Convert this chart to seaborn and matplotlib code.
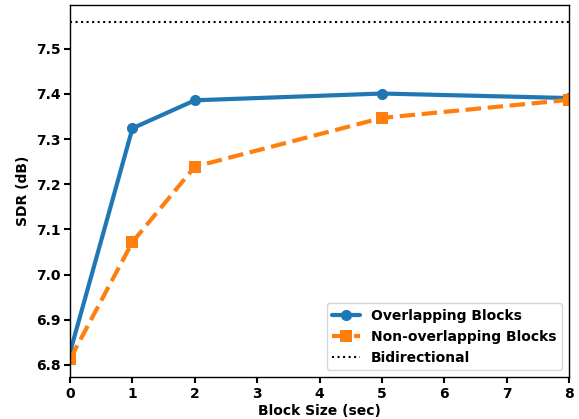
import matplotlib
matplotlib.use("Agg")
import matplotlib.pyplot as plt
import seaborn as sns
import pandas as pd

block_size = [0, 1, 2, 5, 8]
overlapping = [6.828, 7.324, 7.386, 7.401, 7.391]
non_overlapping = [6.813, 7.072, 7.239, 7.347, 7.387]
bidirectional = 7.56

sns.set_style("ticks", rc={"text.color": "black", "axes.labelcolor": "black",
                           "xtick.color": "black", "ytick.color": "black",
                           "axes.edgecolor": "black"})
plt.rcParams["font.family"] = ["DejaVu Sans"]
plt.rcParams["font.weight"] = "bold"
plt.rcParams["axes.labelweight"] = "bold"

df = pd.DataFrame({
    "Block Size (sec)": block_size * 2,
    "SDR (dB)": overlapping + non_overlapping,
    "Method": ["Overlapping Blocks"] * len(block_size) + ["Non-overlapping Blocks"] * len(block_size),
})

fig = plt.figure(figsize=(5.79, 4.19), dpi=100)
ax = fig.add_axes([0.121, 0.100, 0.862, 0.888])

sns.lineplot(data=df[df["Method"] == "Overlapping Blocks"], x="Block Size (sec)", y="SDR (dB)",
             ax=ax, color="#1f77b4", linewidth=3, marker="o", markersize=8,
             markeredgewidth=0, label="Overlapping Blocks")
sns.lineplot(data=df[df["Method"] == "Non-overlapping Blocks"], x="Block Size (sec)", y="SDR (dB)",
             ax=ax, color="#ff7f0e", linewidth=3, linestyle="--", marker="s", markersize=8,
             markeredgewidth=0, label="Non-overlapping Blocks")
ax.axhline(bidirectional, color="black", linestyle=":", linewidth=1.5, label="Bidirectional")
for line in ax.lines:
    line.set_clip_on(True)
    line.set_clip_box(ax.bbox)

ax.set_xlim(0, 8)
ax.set_ylim(6.773, 7.597)
ax.set_xticks(range(0, 9))
ax.set_yticks([6.8, 6.9, 7.0, 7.1, 7.2, 7.3, 7.4, 7.5])
ax.tick_params(labelsize=10, width=1.5, length=4, pad=3)
for sp in ax.spines.values():
    sp.set_linewidth(1.0)
ax.set_xlabel("Block Size (sec)", fontsize=10, fontweight="bold", labelpad=2)
ax.set_ylabel("SDR (dB)", fontsize=10, fontweight="bold")
ax.legend(loc="lower right", prop={"weight": "bold", "size": 10})

fig.savefig("out.png", dpi=100)
